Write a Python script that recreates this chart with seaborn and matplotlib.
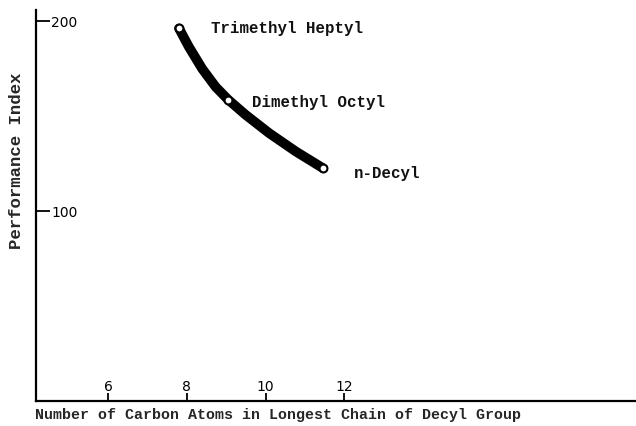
import numpy as np
import pandas as pd
import seaborn as sns
import matplotlib.pyplot as plt

# Data
compounds = ['Trimethyl Heptyl', 'Dimethyl Octyl', 'n-Decyl']
carbon_atoms = [7.8, 9.05, 11.46]
perf_index = [196.3, 158.7, 122.6]

# points along the drawn curve
curve_x = [7.80, 8.05, 8.39, 8.73, 9.05, 9.49, 10.09, 10.77, 11.46]
curve_y = [196.3, 186.6, 175.0, 165.5, 158.7, 150.8, 141.1, 131.4, 122.6]

x_ticks = [6, 8, 10, 12]
y_ticks = [100, 200]

pts = pd.DataFrame({'carbon': carbon_atoms, 'perf': perf_index, 'name': compounds})
curve = pd.DataFrame({'carbon': curve_x, 'perf': curve_y})

sns.set_style('white')
mono = ['Liberation Mono', 'DejaVu Sans Mono']

fig = plt.figure(figsize=(6.36, 4.26), dpi=100)
ax = fig.add_axes([36 / 636, 25 / 426, 600 / 636, 391 / 426])

sns.lineplot(data=curve, x='carbon', y='perf', ax=ax, color='black',
             linewidth=7, solid_capstyle='round', solid_joinstyle='round',
             sort=False)
sns.scatterplot(data=pts, x='carbon', y='perf', ax=ax, s=32,
                facecolor='white', edgecolor='black', linewidth=1.5, zorder=5)

# labels next to each point
offsets = [(23, 0), (17, -2), (22, -4)]
for (_, r), off in zip(pts.iterrows(), offsets):
    ax.annotate(r['name'], (r['carbon'], r['perf']), xytext=off,
                textcoords='offset points', ha='left', va='center',
                fontsize=11.3, family=mono, fontweight='bold', color='#111')

ax.set_xlim(4.17, 19.4)
ax.set_ylim(0, 206)
ax.set_xticks(x_ticks)
ax.set_yticks(y_ticks)

for s in ['top', 'right']:
    ax.spines[s].set_visible(False)
for s in ['left', 'bottom']:
    ax.spines[s].set_linewidth(1.6)
    ax.spines[s].set_color('black')

ax.tick_params(axis='y', left=True, direction='in', length=10, width=1.3,
               pad=-11, labelsize=10, colors='black')
for lbl in ax.get_yticklabels():
    lbl.set_horizontalalignment('left')
ax.tick_params(axis='x', bottom=True, direction='in', length=6, width=1.3,
               pad=-15, labelsize=10, colors='black')

ax.set_xlabel('Number of Carbon Atoms in Longest Chain of Decyl Group',
              family=mono, fontsize=10.8, fontweight='bold')
ax.xaxis.set_label_coords(0.404, -0.037)
ax.xaxis.label.set_verticalalignment('center')

ax.set_ylabel('Performance Index', family=mono, fontsize=12.5, fontweight='bold')
ax.yaxis.set_label_coords(-0.032, 0.614)
ax.yaxis.label.set_verticalalignment('center')

fig.savefig('out.png', dpi=100)
